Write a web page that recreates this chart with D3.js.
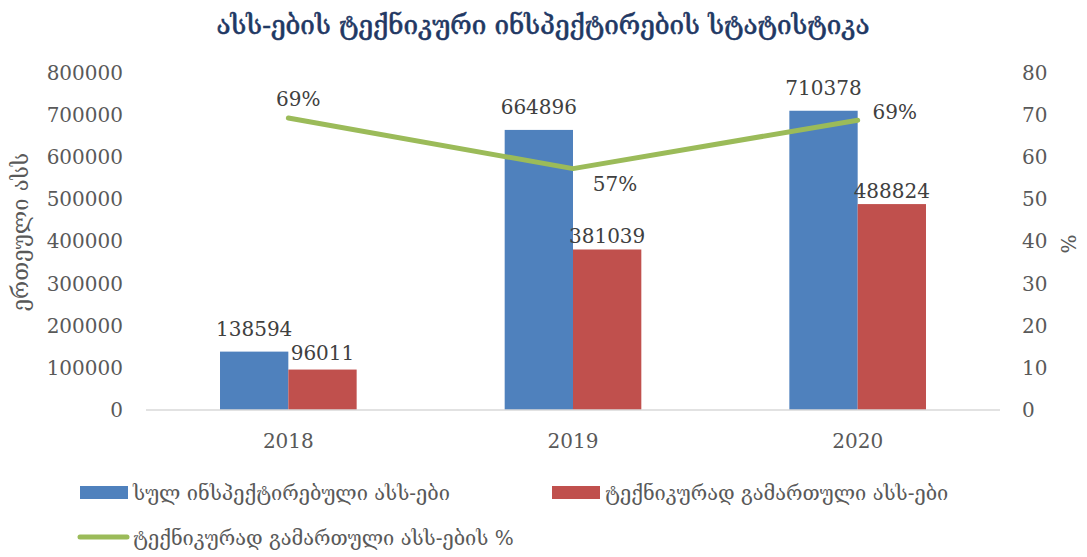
<!DOCTYPE html>
<html>
<head>
<meta charset="utf-8">
<script src="https://cdn.jsdelivr.net/npm/d3@7"></script>
<style>
  body { margin: 0; background: #fff; }
  text { font-family: "DejaVu Serif", "DejaVu Sans", serif; }
</style>
</head>
<body>
<div class="graph"></div>
<script>
// chart data
const years = ["2018", "2019", "2020"];
const totalInspected = [138594, 664896, 710378];
const technicallyOk = [96011, 381039, 488824];
const okPercent = [69.3, 57.3, 68.8];
const percentLabels = ["69%", "57%", "69%"];
const leftTicks = [0, 100000, 200000, 300000, 400000, 500000, 600000, 700000, 800000];
const rightTicks = [0, 10, 20, 30, 40, 50, 60, 70, 80];

const seriesNames = [
    "სულ ინსპექტირებული ასს-ები",
    "ტექნიკურად გამართული ასს-ები",
    "ტექნიკურად გამართული ასს-ების %"
];
const colors = ["#4F81BD", "#C0504D", "#9BBB59"];

function createChart() {
    const dimensions = {
        width: 1087,
        height: 557,
        margins: { top: 73, right: 87, bottom: 147, left: 146 }
    };
    dimensions.boundedWidth = dimensions.width - dimensions.margins.left - dimensions.margins.right;
    dimensions.boundedHeight = dimensions.height - dimensions.margins.top - dimensions.margins.bottom;

    const wrapper = d3.select(".graph")
        .append("svg")
            .attr("width", dimensions.width)
            .attr("height", dimensions.height);

    // title
    wrapper.append("text")
        .attr("x", 543)
        .attr("y", 34)
        .attr("text-anchor", "middle")
        .attr("fill", "#1F3864")
        .attr("stroke", "#1F3864")
        .attr("stroke-width", 0.6)
        .style("font-size", "26px")
        .text("ასს-ების ტექნიკური ინსპექტირების სტატისტიკა");

    const bounds = wrapper.append("g")
        .attr("transform", `translate(${dimensions.margins.left},${dimensions.margins.top})`);

    const xScale = d3.scaleBand()
        .domain(years)
        .range([0, dimensions.boundedWidth])
        .paddingInner(0.52)
        .paddingOuter(0.26);

    const yScale = d3.scaleLinear()
        .domain([0, 800000])
        .range([dimensions.boundedHeight, 0]);

    const pScale = d3.scaleLinear()
        .domain([0, 80])
        .range([dimensions.boundedHeight, 0]);

    const barWidth = xScale.bandwidth() / 2;

    // bars
    const barSeries = [totalInspected, technicallyOk];
    const labelLift = [16, 6];
    barSeries.forEach((values, s) => {
        bounds.append("g").selectAll("rect")
            .data(values)
            .join("rect")
                .attr("x", (d, i) => xScale(years[i]) + s * barWidth)
                .attr("y", d => yScale(d))
                .attr("width", barWidth)
                .attr("height", d => dimensions.boundedHeight - yScale(d))
                .attr("fill", colors[s]);

        bounds.append("g").selectAll("text")
            .data(values)
            .join("text")
                .attr("x", (d, i) => xScale(years[i]) + s * barWidth + barWidth / 2)
                .attr("y", (d, i) => yScale(d) - (s === 1 && i === 0 ? 10 : labelLift[s]))
                .attr("text-anchor", "middle")
                .attr("fill", "#404040")
                .style("font-size", "20px")
                .text(d => d);
    });

    // baseline
    bounds.append("line")
        .attr("x1", 0)
        .attr("x2", dimensions.boundedWidth)
        .attr("y1", dimensions.boundedHeight)
        .attr("y2", dimensions.boundedHeight)
        .attr("stroke", "#D9D9D9")
        .attr("stroke-width", 1.5);

    // percent line
    const center = y => xScale(y) + xScale.bandwidth() / 2;
    const lineGenerator = d3.line()
        .x((d, i) => center(years[i]))
        .y(d => pScale(d));
    bounds.append("path")
        .attr("d", lineGenerator(okPercent))
        .attr("fill", "none")
        .attr("stroke", colors[2])
        .attr("stroke-width", 5)
        .attr("stroke-linecap", "round")
        .attr("stroke-linejoin", "round");

    // percent labels (offsets like excel's auto placement)
    const labelOffsets = [[10, -12], [42, 22], [37, -1]];
    bounds.append("g").selectAll("text")
        .data(okPercent)
        .join("text")
            .attr("x", (d, i) => center(years[i]) + labelOffsets[i][0])
            .attr("y", (d, i) => pScale(d) + labelOffsets[i][1])
            .attr("text-anchor", "middle")
            .attr("fill", "#404040")
            .style("font-size", "20px")
            .text((d, i) => percentLabels[i]);

    // axes
    const axisStyle = g => {
        g.select(".domain").remove();
        g.selectAll(".tick line").remove();
        g.selectAll("text")
            .attr("fill", "#595959")
            .style("font-size", "20px")
            .style("font-family", "DejaVu Serif, serif");
    };

    bounds.append("g")
        .call(d3.axisLeft(yScale).tickValues(leftTicks).tickFormat(d3.format("d")).tickSize(0).tickPadding(23))
        .call(axisStyle);

    bounds.append("g")
        .attr("transform", `translate(${dimensions.boundedWidth},0)`)
        .call(d3.axisRight(pScale).tickValues(rightTicks).tickSize(0).tickPadding(22))
        .call(axisStyle);

    bounds.append("g")
        .attr("transform", `translate(0,${dimensions.boundedHeight})`)
        .call(d3.axisBottom(xScale).tickSize(0).tickPadding(24))
        .call(axisStyle);

    // axis titles
    wrapper.append("text")
        .attr("transform", "translate(28,232) rotate(-90)")
        .attr("text-anchor", "middle")
        .attr("fill", "#595959")
        .style("font-size", "22px")
        .text("ერთეული ასს");

    wrapper.append("text")
        .attr("transform", "translate(1076,244) rotate(-90)")
        .attr("text-anchor", "middle")
        .attr("fill", "#595959")
        .style("font-size", "20px")
        .text("%");

    // legend
    const legend = wrapper.append("g");
    const legendItems = [
        { x: 80, y: 492, type: "rect" },
        { x: 552, y: 492, type: "rect" },
        { x: 80, y: 537, type: "line" }
    ];
    legendItems.forEach((item, i) => {
        if (item.type === "rect") {
            legend.append("rect")
                .attr("x", item.x)
                .attr("y", item.y - 6)
                .attr("width", 48)
                .attr("height", 13)
                .attr("fill", colors[i]);
        } else {
            legend.append("line")
                .attr("x1", item.x)
                .attr("x2", item.x + 47)
                .attr("y1", item.y)
                .attr("y2", item.y)
                .attr("stroke", colors[i])
                .attr("stroke-width", 5)
                .attr("stroke-linecap", "round");
        }
        legend.append("text")
            .attr("x", item.x + 53)
            .attr("y", item.y + 8)
            .attr("fill", "#595959")
            .style("font-size", "20px")
            .text(seriesNames[i]);
    });
}

createChart();
</script>
</body>
</html>
